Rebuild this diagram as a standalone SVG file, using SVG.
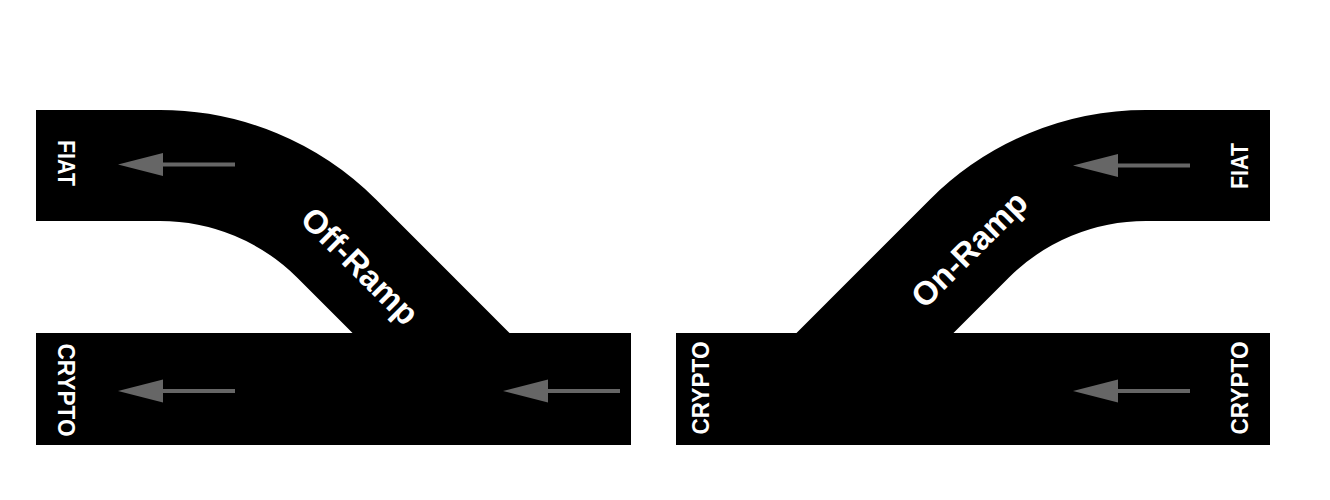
<svg xmlns="http://www.w3.org/2000/svg" xmlns:xlink="http://www.w3.org/1999/xlink" width="1330" height="500" viewBox="0 0 1330 500">
  <style>
    .road { fill: none; stroke: #000; stroke-width: 111; }
    .roadrect { fill: #000; }
    .lbl { font-family: "Liberation Sans", Arial, sans-serif; font-weight: bold; font-size: 23px; fill: #fff; text-anchor: middle; dominant-baseline: central; }
    .ramp { font-family: "Liberation Sans", Arial, sans-serif; font-weight: bold; font-size: 33px; fill: #fff; text-anchor: middle; dominant-baseline: central; }
    .arrline { stroke: #666; stroke-width: 4; }
    .arrhead { fill: #666; }
  </style>
  <defs>
    <g id="arrow">
      <line class="arrline" x1="44" y1="0" x2="117" y2="0"/>
      <polygon class="arrhead" points="0,0 45,-11.5 45,11.5"/>
    </g>
  </defs>
  <rect width="1330" height="500" fill="#fff"/>

  <g id="off-ramp">
    <rect class="roadrect" x="36" y="333" width="595" height="112"/>
    <path class="road" d="M36,165.5 H160 A250,250 0 0 1 336.8,238.7 L488,390"/>
    <text class="lbl" transform="translate(66,163) rotate(90)" textLength="46" lengthAdjust="spacingAndGlyphs">FIAT</text>
    <text class="lbl" transform="translate(66,390) rotate(90)" textLength="93" lengthAdjust="spacingAndGlyphs">CRYPTO</text>
    <text class="ramp" transform="translate(360,266) rotate(45)">Off-Ramp</text>
  </g>

  <g id="on-ramp">
    <rect class="roadrect" x="676" y="333" width="594" height="112"/>
    <path class="road" transform="matrix(-1 0 0 1 1306 0)" d="M36,165.5 H160 A250,250 0 0 1 336.8,238.7 L488,390"/>
    <text class="lbl" transform="translate(1240,166) rotate(-90)" textLength="46" lengthAdjust="spacingAndGlyphs">FIAT</text>
    <text class="lbl" transform="translate(1240,388) rotate(-90)" textLength="93" lengthAdjust="spacingAndGlyphs">CRYPTO</text>
    <text class="lbl" transform="translate(701,388) rotate(-90)" textLength="93" lengthAdjust="spacingAndGlyphs">CRYPTO</text>
    <text class="ramp" transform="translate(969,249) rotate(-45)">On-Ramp</text>
  </g>

  <g id="connectors">
    <use xlink:href="#arrow" transform="translate(118,164.5)"/>
    <use xlink:href="#arrow" transform="translate(118,391)"/>
    <use xlink:href="#arrow" transform="translate(503,391)"/>
    <use xlink:href="#arrow" transform="translate(1073,165.5)"/>
    <use xlink:href="#arrow" transform="translate(1073,391)"/>
  </g>
</svg>
